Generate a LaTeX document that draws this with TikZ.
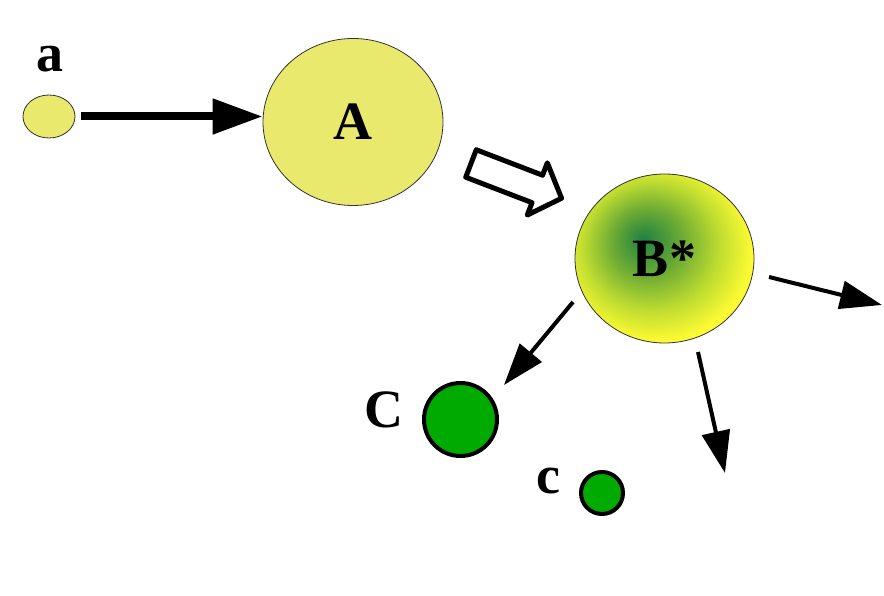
\documentclass[tikz,border=0pt]{standalone}
\usepackage{fontspec}
\setmainfont{Liberation Serif}
\usetikzlibrary{shapes.geometric,arrows.meta}

\definecolor{paleyellow}{RGB}{233,233,110}
\definecolor{outline}{RGB}{50,50,50}
\definecolor{leafgreen}{RGB}{0,170,0}
\definecolor{bdark}{RGB}{30,130,65}
\definecolor{bmid}{RGB}{110,172,52}
\definecolor{blight}{RGB}{190,220,48}
\definecolor{byellow}{RGB}{252,250,50}

% off-centre radial fill of the excited state
\pgfdeclareradialshading{bstar}{\pgfpoint{-6bp}{6bp}}{%
  color(0bp)=(bdark); color(10bp)=(bmid); color(19bp)=(blight);
  color(27bp)=(byellow); color(50bp)=(byellow)}

\tikzset{
  lbl/.style={font=\fontsize{54}{60}\selectfont\bfseries, inner sep=0pt},
  blob/.style={ellipse, draw=outline, line width=0.8pt, fill=paleyellow,
               inner sep=0pt, font=\fontsize{54}{60}\selectfont\bfseries},
  product/.style={circle, draw=black, line width=4pt, fill=leafgreen, inner sep=0pt},
  bigarrow/.style={line width=8pt, -{Triangle[length=50pt,width=34pt]}},
  thinarrow/.style={line width=4pt, -{Triangle[length=42pt,width=28pt]}},
}

\begin{document}
\begin{tikzpicture}[x=1pt,y=-1pt]
\useasboundingbox (0,0) rectangle (884,596);

% species
\node[blob, minimum width=52pt, minimum height=43pt] (a) at (49,116.5) {};
\node[lbl, anchor=base] (alabel) at (50,72) {a};
\node[blob, minimum width=180pt, minimum height=167pt] (A) at (353,122) {A};
\node[ellipse, draw=outline, line width=0.8pt, shade, shading=bstar,
      minimum width=179pt, minimum height=169pt, inner sep=0pt,
      font=\fontsize{54}{60}\selectfont\bfseries] (B) at (664.5,258.5) {B*};
\node[product, minimum size=73pt] (C) at (460.5,419.5) {};
\node[lbl, anchor=base] (Clabel) at (384,427) {C};
\node[product, minimum size=42pt] (c) at (602,493) {};
\node[lbl, anchor=base] (clabel) at (548,493) {c};

% excitation
\draw[bigarrow, shorten <=6pt] (a.east) -- (a.east -| A.west);

% hollow block arrow A => B*
\begin{scope}[shift={(471,163.5)}, rotate=-21]
  \draw[line width=5pt, line join=round, fill=white]
    (0,14.7) -- (71,14.7) -- (71,28) -- (97,0) -- (71,-28) -- (71,-14.7)
    -- (0,-14.7) -- cycle;
\end{scope}

% decay channels of B*
\coordinate (r0) at (769,277);
\coordinate (r1) at (882,305);
\coordinate (l0) at (573,302);
\coordinate (l1) at (504,385);
\coordinate (d0) at (698,352);
\coordinate (d1) at (725,473);
\draw[thinarrow] (r0) -- (r1);
\draw[thinarrow] (l0) -- (l1);
\draw[thinarrow] (d0) -- (d1);
\end{tikzpicture}
\end{document}
